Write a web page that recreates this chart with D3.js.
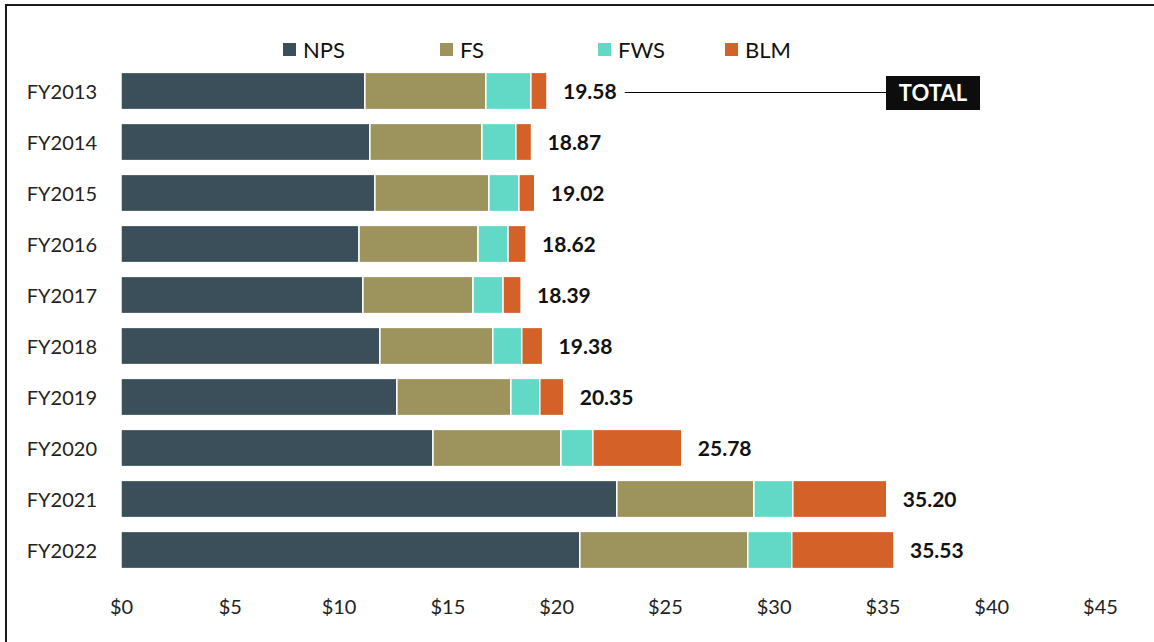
<!DOCTYPE html>
<html>
<head>
<meta charset="utf-8">
<script src="https://cdn.jsdelivr.net/npm/d3@7"></script>
<style>
  body { margin: 0; background: #fff; }
  svg { font-family: Lato, "Open Sans", sans-serif; }
</style>
</head>
<body>
<div id="chart"></div>
<script>
const years = ["FY2013", "FY2014", "FY2015", "FY2016", "FY2017", "FY2018", "FY2019", "FY2020", "FY2021", "FY2022"];
const agencies = ["NPS", "FS", "FWS", "BLM"];
const nps = [11.21, 11.44, 11.67, 10.94, 11.12, 11.90, 12.68, 14.34, 22.79, 21.09];
const fs  = [5.56, 5.15, 5.24, 5.47, 5.06, 5.19, 5.24, 5.88, 6.30, 7.72];
const fws = [2.07, 1.56, 1.38, 1.38, 1.38, 1.33, 1.33, 1.47, 1.79, 2.02];
const blm = [0.74, 0.72, 0.73, 0.83, 0.83, 0.96, 1.10, 4.09, 4.32, 4.70];
const totals = [19.58, 18.87, 19.02, 18.62, 18.39, 19.38, 20.35, 25.78, 35.20, 35.53];
const xTicks = [0, 5, 10, 15, 20, 25, 30, 35, 40, 45];

const colors = { NPS: "#3a4f5a", FS: "#9c935d", FWS: "#62d9c6", BLM: "#d46128" };

const rows = years.map((yr, i) => ({ year: yr, NPS: nps[i], FS: fs[i], FWS: fws[i], BLM: blm[i], total: totals[i] }));

const svg = d3.select("#chart")
  .append("svg")
  .attr("width", 1154)
  .attr("height", 642);

// frame
svg.append("rect")
  .attr("x", 6)
  .attr("y", 5)
  .attr("width", 1160)
  .attr("height", 660)
  .attr("fill", "none")
  .attr("stroke", "#1a1a1a")
  .attr("stroke-width", 2);

const x = d3.scaleLinear().domain([0, 45]).range([121, 1100]);
const y = d3.scaleBand().domain(years).range([65.5, 575.5]).paddingInner(0.27).paddingOuter(0.135);

const stacked = d3.stack().keys(agencies)(rows);

svg.selectAll(".series")
  .data(stacked)
  .enter()
  .append("g")
  .attr("fill", d => colors[d.key])
  .selectAll("rect")
  .data(d => d)
  .enter()
  .append("rect")
  .attr("x", d => x(d[0]))
  .attr("y", d => y(d.data.year))
  .attr("width", d => x(d[1]) - x(d[0]))
  .attr("height", y.bandwidth())
  .attr("stroke", "#fff")
  .attr("stroke-width", 1.5);

// total labels
const labels = svg.selectAll(".total")
  .data(rows)
  .enter()
  .append("text")
  .attr("class", "total")
  .attr("x", d => x(d.total) + 16)
  .attr("y", d => y(d.year) + y.bandwidth() / 2)
  .attr("dy", "0.38em")
  .attr("font-size", 21)
  .attr("font-weight", "bold")
  .attr("fill", "#111")
  .text(d => d.total.toFixed(2));

// year labels
svg.selectAll(".year")
  .data(years)
  .enter()
  .append("text")
  .attr("x", 97)
  .attr("y", d => y(d) + y.bandwidth() / 2)
  .attr("dy", "0.38em")
  .attr("text-anchor", "end")
  .attr("font-size", 20)
  .attr("fill", "#222")
  .text(d => d);

// x axis (labels only)
const xAxis = svg.append("g")
  .attr("transform", "translate(0,592)")
  .call(d3.axisBottom(x).tickValues(xTicks).tickFormat(d => "$" + d).tickSize(0).tickPadding(8));
xAxis.select(".domain").remove();
xAxis.selectAll("text")
  .attr("font-family", "Lato, 'Open Sans', sans-serif")
  .attr("font-size", 20)
  .attr("fill", "#222");

// legend
const legendX = [283, 440, 598, 725];
const legend = svg.selectAll(".legend")
  .data(agencies)
  .enter()
  .append("g")
  .attr("transform", (d, i) => `translate(${legendX[i]},50)`);
legend.append("rect")
  .attr("x", 0)
  .attr("y", -7)
  .attr("width", 13)
  .attr("height", 13)
  .attr("fill", d => colors[d]);
legend.append("text")
  .attr("x", 20)
  .attr("y", 0)
  .attr("dy", "0.36em")
  .attr("font-size", 22)
  .attr("fill", "#111")
  .text(d => d);

// TOTAL callout
const first = labels.nodes()[0];
const lineStart = +first.getAttribute("x") + first.getComputedTextLength() + 8;
const cy = y(years[0]) + y.bandwidth() / 2;
const boxX = 886;
svg.append("line")
  .attr("x1", lineStart)
  .attr("x2", boxX)
  .attr("y1", Math.round(cy) + 1.5)
  .attr("y2", Math.round(cy) + 1.5)
  .attr("stroke", "#000")
  .attr("stroke-width", 1);
svg.append("rect")
  .attr("x", boxX)
  .attr("y", cy - 15)
  .attr("width", 94)
  .attr("height", 34)
  .attr("fill", "#0d0d0d");
svg.append("text")
  .attr("x", boxX + 47)
  .attr("y", cy + 2)
  .attr("dy", "0.36em")
  .attr("text-anchor", "middle")
  .attr("font-size", 22)
  .attr("font-weight", "bold")
  .attr("fill", "#fff")
  .text("TOTAL");
</script>
</body>
</html>
